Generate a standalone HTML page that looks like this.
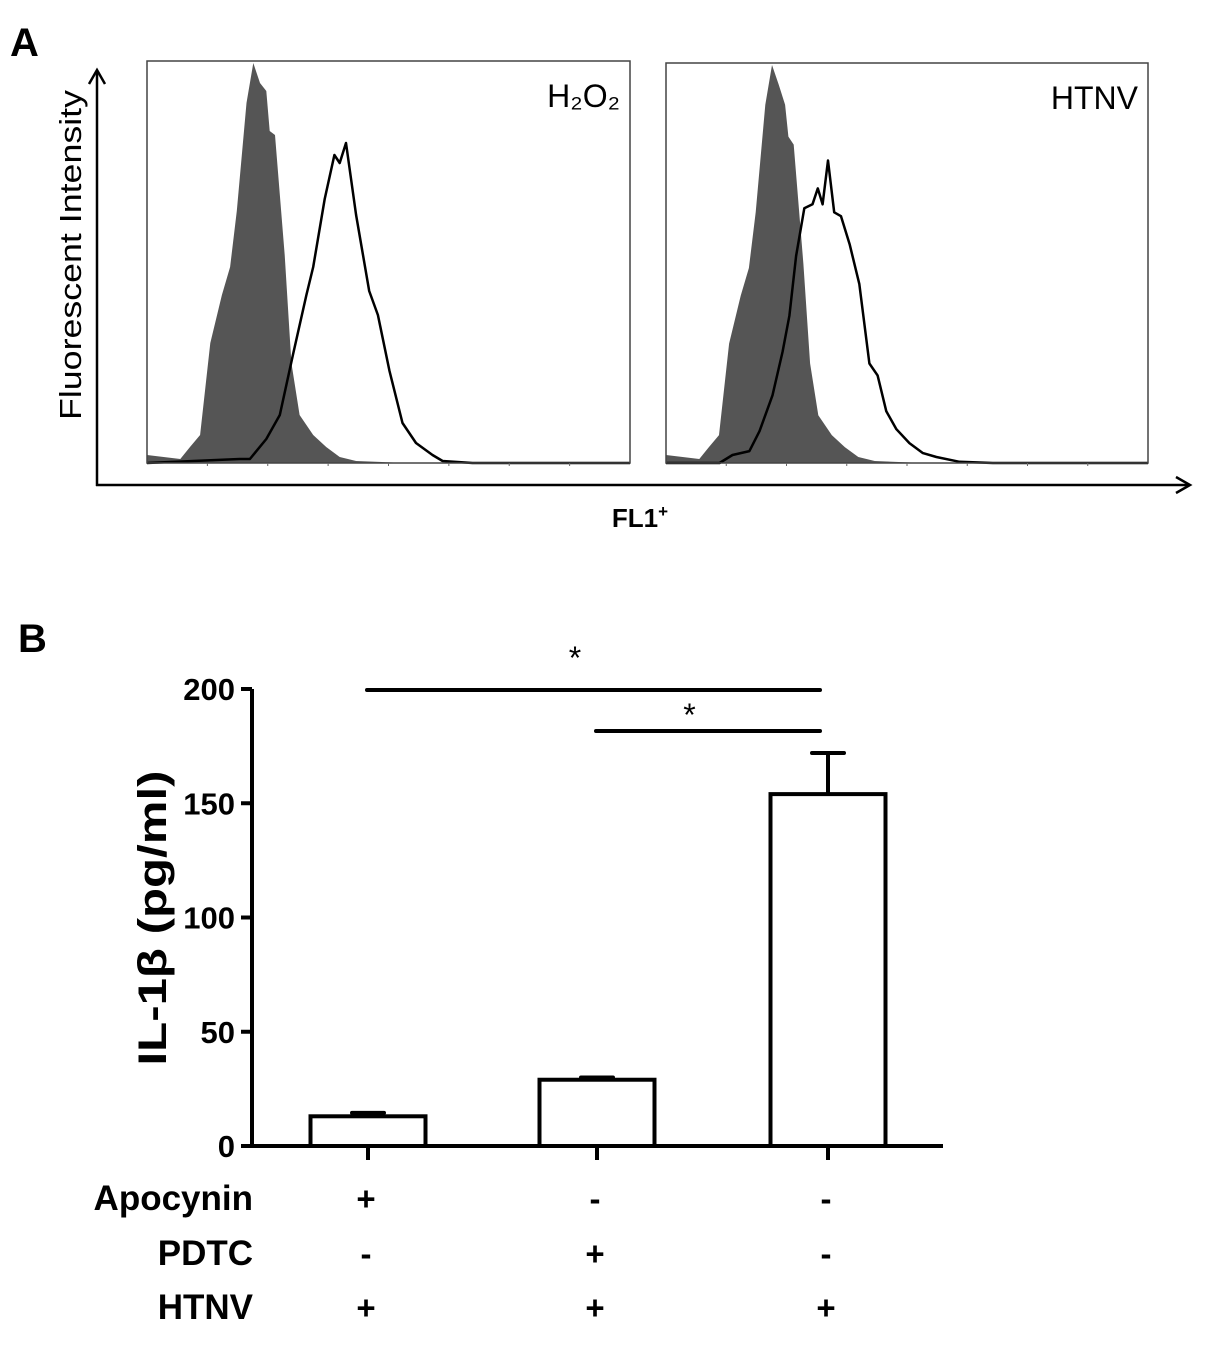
<!DOCTYPE html>
<html><head><meta charset="utf-8"><style>
body{margin:0;background:#fff;}
svg{display:block;font-family:"Liberation Sans",Arial,sans-serif;}
</style></head><body>
<svg id="fig" width="1205" height="1348" viewBox="0 0 1205 1348">
<text x="10" y="56" font-size="40" font-weight="bold">A</text>
<text x="18" y="652" font-size="40" font-weight="bold">B</text>
<g id="panelA">
<line x1="97" y1="486" x2="97" y2="72" stroke="#000" stroke-width="2.5"/>
<polyline points="89,84 97,70 105,84" fill="none" stroke="#000" stroke-width="2.5"/>
<line x1="96" y1="485" x2="1188" y2="485" stroke="#000" stroke-width="2.5"/>
<polyline points="1176,477 1190,485 1176,493" fill="none" stroke="#000" stroke-width="2.5"/>
<text transform="translate(81,255) rotate(-90)" text-anchor="middle" font-size="31" textLength="330" lengthAdjust="spacingAndGlyphs">Fluorescent Intensity</text>
<text x="640" y="527" text-anchor="middle" font-size="26" font-weight="bold">FL1<tspan dy="-10" font-size="17">+</tspan></text>
</g>
<g id="panelB"></g>
</svg>
<script>
// Panel A histogram data: x in per-mille of FL1 range, y fraction of max count
const h2o2FilledX=[0,69,89,110,131,155,172,186,206,220,234,247,254,265,285,299,316,344,371,399,433,536,1000];
const h2o2FilledY=[0.02,0.01,0.04,0.07,0.30,0.42,0.49,0.63,0.90,1.0,0.95,0.93,0.83,0.82,0.52,0.25,0.12,0.07,0.04,0.015,0.005,0,0];
const h2o2OpenX=[0,192,213,247,275,302,330,344,368,388,399,412,433,460,478,502,529,557,591,612,674,1000];
const h2o2OpenY=[0,0.01,0.01,0.06,0.12,0.27,0.42,0.49,0.66,0.77,0.75,0.80,0.62,0.43,0.37,0.23,0.10,0.05,0.02,0.005,0,0];
const htnvFilledX=[0,69,89,110,131,155,172,186,206,220,234,247,254,265,285,299,316,344,371,399,433,536,1000];
const htnvFilledY=[0.02,0.01,0.04,0.07,0.30,0.42,0.49,0.63,0.90,1.0,0.95,0.90,0.82,0.80,0.50,0.25,0.12,0.07,0.04,0.015,0.005,0,0];
const htnvOpenX=[0,111,138,173,194,221,242,256,270,287,304,315,325,336,349,363,381,401,422,439,457,478,505,533,561,609,678,1000];
const htnvOpenY=[0,0,0.02,0.03,0.08,0.17,0.28,0.37,0.52,0.64,0.65,0.69,0.65,0.76,0.63,0.62,0.55,0.45,0.25,0.22,0.13,0.085,0.05,0.025,0.015,0.003,0,0];
const panelTitles=["H\u2082O\u2082","HTNV"];
// Panel B data
const categories=["Group 1","Group 2","Group 3"];
const barValues=[13,29,154];
const errValues=[1.5,1,18];
const yTicks=[0,50,100,150,200];
const rowLabels=["Apocynin","PDTC","HTNV"];
const apocynin=["+","-","-"];
const pdtc=["-","+","-"];
const htnv=["+","+","+"];

const NS="http://www.w3.org/2000/svg";
function mk(tag,attrs,parent){const e=document.createElementNS(NS,tag);for(const k in attrs)e.setAttribute(k,attrs[k]);parent.appendChild(e);return e;}
const A=document.getElementById('panelA');
const panels=[{x:147,y:61,w:483,h:402,fx:h2o2FilledX,fy:h2o2FilledY,ox:h2o2OpenX,oy:h2o2OpenY},
              {x:666,y:63,w:482,h:400,fx:htnvFilledX,fy:htnvFilledY,ox:htnvOpenX,oy:htnvOpenY}];
panels.forEach((p,i)=>{
  const g=mk('g',{},A);
  
  
  const sx=v=>p.x+v/1000*p.w, sy=v=>p.y+p.h-v*p.h*0.995;
  let d='M'+sx(p.fx[0])+','+(p.y+p.h);
  p.fx.forEach((v,j)=>{d+=' L'+sx(v).toFixed(1)+','+sy(p.fy[j]).toFixed(1);});
  d+=' L'+sx(1000)+','+(p.y+p.h)+' Z';
  const f=mk('path',{d:d,fill:'#555',stroke:'none'},g);
  
  
  let d2='';
  p.ox.forEach((v,j)=>{d2+=(j?' L':'M')+sx(v).toFixed(1)+','+sy(p.oy[j]).toFixed(1);});
  const o=mk('path',{d:d2,fill:'none',stroke:'#000','stroke-width':2.5,'stroke-linejoin':'round'},g);
  
  
  const r=mk('rect',{x:p.x,y:p.y,width:p.w,height:p.h,fill:'none',stroke:'#444','stroke-width':1.5},g);
  
  
  for(let k=1;k<8;k++){const t=mk('line',{x1:p.x+k*p.w/8,x2:p.x+k*p.w/8,y1:p.y+p.h,y2:p.y+p.h+3,stroke:'#666','stroke-width':1},g);
    
    }
  const tt=mk('text',{x:p.x+p.w-10,y:p.y+46,'text-anchor':'end','font-size':32},g);
  tt.textContent=panelTitles[i];
  
  
});

const B=document.getElementById('panelB');
const x0=252,y0=1146,ppu=(1146-689)/200;
const yS=v=>y0-v*ppu;
const xC=[368,597,828], bw=115;
const ax=mk('path',{d:`M${x0},${yS(200)} L${x0},${y0} L943,${y0}`,fill:'none',stroke:'#000','stroke-width':4},B);


yTicks.forEach(t=>{
  const l=mk('line',{x1:x0-11,x2:x0,y1:yS(t),y2:yS(t),stroke:'#000','stroke-width':4},B);
  
  
  const tx=mk('text',{x:x0-17,y:yS(t)+11,'text-anchor':'end','font-size':31,'font-weight':'bold'},B);
  tx.textContent=t;
  
  
});
const yl=mk('text',{transform:'translate(166,918) rotate(-90)','text-anchor':'middle','font-size':40,'font-weight':'bold',textLength:295,lengthAdjust:'spacingAndGlyphs'},B);
yl.textContent='IL-1\u03b2 (pg/ml)';


barValues.forEach((v,i)=>{
  const cx=xC[i];
  const e=mk('path',{d:`M${cx},${yS(v)} L${cx},${yS(v+errValues[i])} M${cx-16},${yS(v+errValues[i])} L${cx+16},${yS(v+errValues[i])}`,stroke:'#000','stroke-width':4,fill:'none','stroke-linecap':'round'},B);
  
  
  const r=mk('rect',{x:cx-bw/2,y:yS(v),width:bw,height:y0-yS(v),fill:'#fff',stroke:'#000','stroke-width':4},B);
  
  
  const t=mk('line',{x1:cx,x2:cx,y1:y0,y2:y0+14,stroke:'#000','stroke-width':4},B);
  
  
});
[[0,2,690,655],[1,2,731,712]].forEach(([a,b,y,sy])=>{
  const l=mk('line',{x1:xC[a]-1,x2:xC[b]-8,y1:y,y2:y,stroke:'#000','stroke-width':4,'stroke-linecap':'round'},B);
  
  
  const s=mk('text',{x:(xC[a]+xC[b]-8)/2-19,y:sy+14,'text-anchor':'middle','font-size':32},B);
  s.textContent='*';
  
  
});
const rows=[apocynin,pdtc,htnv], rowY=[1198,1253,1307];
rows.forEach((row,ri)=>{
  const lb=mk('text',{x:253,y:rowY[ri]+12,'text-anchor':'end','font-size':35,'font-weight':'bold'},B);
  lb.textContent=rowLabels[ri];
  
  
  row.forEach((s,i)=>{
    const t=mk('text',{x:xC[i]-2,y:rowY[ri]+12,'text-anchor':'middle','font-size':33,'font-weight':'bold'},B);
    t.textContent=s;
    
    
  });
});
</script>
</body></html>
